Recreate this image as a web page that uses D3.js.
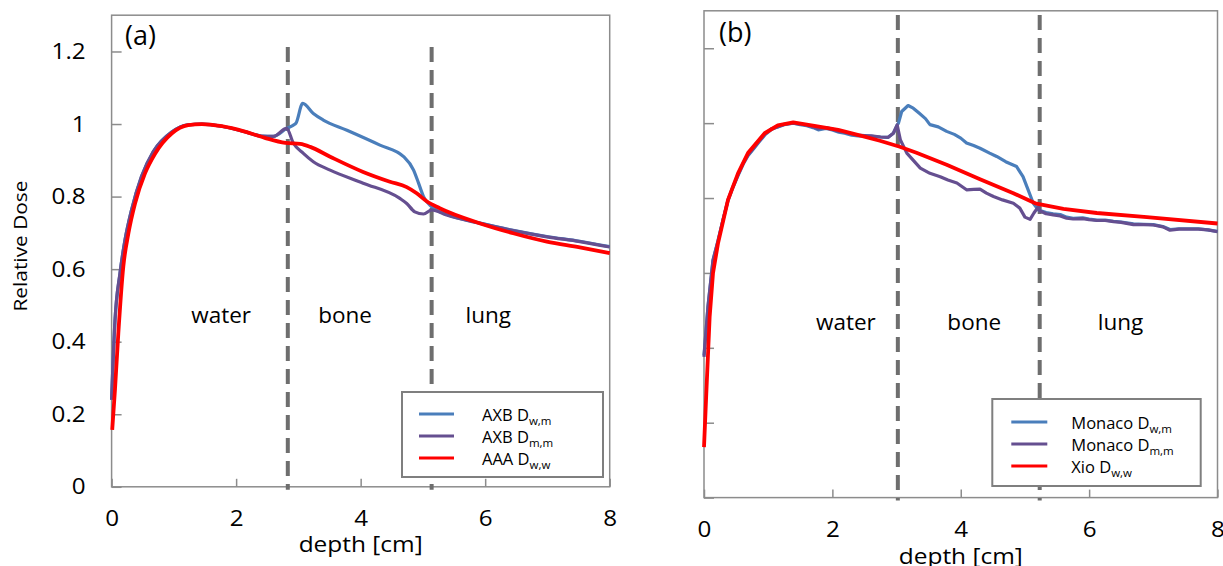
<!DOCTYPE html>
<html>
<head>
<meta charset="utf-8">
<script src="https://cdn.jsdelivr.net/npm/d3@7"></script>
<style>
  body { margin: 0; background: #fff; }
  svg { display: block; font-family: "Open Sans", sans-serif; }
</style>
</head>
<body>
<svg></svg>
<script>
// depth [cm] vs relative dose

const xTicks = [0, 2, 4, 6, 8]
const yTicks = [0, 0.2, 0.4, 0.6, 0.8, 1, 1.2]
const regions = ["water", "bone", "lung"]

// panel (a)
const aBoundaries = [2.83, 5.14]
const aRegionX = [1.76, 3.75, 6.05]
const aLegend = [["AXB D", "w,m"], ["AXB D", "m,m"], ["AAA D", "w,w"]]

const aAxbDwm = [
    [0.0, 0.24], [0.055, 0.46], [0.135, 0.589], [0.215, 0.68], [0.32, 0.763], [0.48, 0.855],
    [0.67, 0.924], [0.965, 0.978], [1.23, 0.998], [1.45, 1.0], [1.77, 0.994], [2.14, 0.979],
    [2.4, 0.967], [2.6, 0.966], [2.81, 0.988], [2.92, 0.997], [2.96, 1.002], [3.07, 1.057],
    [3.24, 1.029], [3.4, 1.011], [3.78, 0.983], [4.31, 0.942], [4.69, 0.91], [4.85, 0.873],
    [4.93, 0.837], [5.01, 0.8], [5.14, 0.772], [5.38, 0.751], [5.92, 0.727], [6.45, 0.707],
    [6.99, 0.69], [7.52, 0.677], [8.0, 0.662]
]
const aAxbDmm = [
    [0.0, 0.24], [0.055, 0.46], [0.135, 0.589], [0.215, 0.68], [0.32, 0.763], [0.48, 0.855],
    [0.67, 0.924], [0.965, 0.978], [1.23, 0.998], [1.45, 1.0], [1.77, 0.994], [2.14, 0.979],
    [2.4, 0.967], [2.6, 0.966], [2.81, 0.988], [2.92, 0.947], [3.08, 0.919], [3.24, 0.896],
    [3.51, 0.873], [4.04, 0.837], [4.63, 0.795], [4.74, 0.781], [4.87, 0.758], [5.01, 0.752],
    [5.14, 0.763], [5.38, 0.749], [5.92, 0.726], [6.45, 0.706], [6.99, 0.689], [7.52, 0.676],
    [8.0, 0.661]
]
const aAaaDww = [
    [0.01, 0.157], [0.055, 0.27], [0.108, 0.423], [0.188, 0.607], [0.27, 0.699], [0.376, 0.781],
    [0.536, 0.864], [0.7, 0.919], [0.965, 0.974], [1.23, 0.997], [1.45, 1.0], [1.77, 0.994],
    [2.14, 0.979], [2.46, 0.962], [2.79, 0.948], [3.03, 0.945], [3.19, 0.937], [3.51, 0.91],
    [4.04, 0.868], [4.47, 0.841], [4.74, 0.826], [4.9, 0.809], [5.06, 0.787], [5.27, 0.768],
    [5.92, 0.726], [6.45, 0.699], [6.99, 0.676], [7.52, 0.66], [8.0, 0.644]
]

// panel (b)
const bBoundaries = [3.02, 5.23]
const bRegionX = [2.21, 4.21, 6.49]
const bLegend = [["Monaco D", "w,m"], ["Monaco D", "m,m"], ["Xio D", "w,w"]]

const bMonacoDwm = [
    [0.0, 0.38], [0.062, 0.51], [0.14, 0.632], [0.218, 0.686], [0.3, 0.744], [0.374, 0.793],
    [0.45, 0.828], [0.53, 0.86], [0.61, 0.89], [0.685, 0.913], [0.78, 0.933], [0.86, 0.95],
    [0.945, 0.968], [1.05, 0.983], [1.15, 0.99], [1.25, 0.996], [1.39, 1.0], [1.5, 0.996],
    [1.6, 0.993], [1.7, 0.988], [1.78, 0.982], [1.9, 0.986], [2.0, 0.982], [2.1, 0.976],
    [2.19, 0.973], [2.3, 0.968], [2.4, 0.966], [2.5, 0.965], [2.61, 0.965], [2.75, 0.963],
    [2.87, 0.962], [2.95, 0.973], [3.01, 0.995], [3.03, 1.0], [3.08, 1.031], [3.18, 1.047],
    [3.26, 1.04], [3.35, 1.027], [3.45, 1.012], [3.52, 0.996], [3.65, 0.99], [3.78, 0.978],
    [3.9, 0.97], [4.0, 0.96], [4.09, 0.947], [4.2, 0.94], [4.3, 0.933], [4.45, 0.92],
    [4.56, 0.911], [4.7, 0.897], [4.87, 0.884], [4.97, 0.857], [5.05, 0.822], [5.13, 0.786],
    [5.21, 0.768], [5.33, 0.761], [5.44, 0.758], [5.55, 0.756], [5.65, 0.749], [5.75, 0.746],
    [5.9, 0.747], [6.0, 0.744], [6.12, 0.741], [6.25, 0.741], [6.38, 0.738], [6.5, 0.736],
    [6.69, 0.731], [6.85, 0.73], [7.0, 0.729], [7.15, 0.724], [7.26, 0.716], [7.4, 0.718],
    [7.52, 0.718], [7.7, 0.718], [7.85, 0.715], [8.0, 0.711]
]
const bMonacoDmm = [
    [0.0, 0.376], [0.062, 0.51], [0.14, 0.635], [0.218, 0.685], [0.3, 0.745], [0.374, 0.795],
    [0.45, 0.83], [0.53, 0.862], [0.61, 0.893], [0.685, 0.915], [0.78, 0.935], [0.86, 0.952],
    [0.945, 0.97], [1.05, 0.985], [1.15, 0.99], [1.25, 0.997], [1.39, 1.0], [1.5, 0.997],
    [1.6, 0.995], [1.7, 0.99], [1.78, 0.985], [1.9, 0.988], [2.0, 0.984], [2.1, 0.978],
    [2.19, 0.976], [2.3, 0.971], [2.4, 0.968], [2.5, 0.967], [2.61, 0.966], [2.75, 0.963],
    [2.87, 0.962], [2.95, 0.973], [3.01, 0.995], [3.06, 0.955], [3.16, 0.92], [3.37, 0.88],
    [3.52, 0.866], [3.68, 0.857], [3.8, 0.848], [3.94, 0.84], [4.09, 0.822], [4.2, 0.823],
    [4.3, 0.824], [4.4, 0.813], [4.51, 0.804], [4.65, 0.795], [4.82, 0.786], [4.92, 0.773],
    [5.0, 0.749], [5.08, 0.743], [5.14, 0.76], [5.21, 0.777], [5.23, 0.766], [5.33, 0.758],
    [5.44, 0.755], [5.55, 0.752], [5.65, 0.746], [5.75, 0.744], [5.9, 0.745], [6.0, 0.742],
    [6.12, 0.74], [6.25, 0.74], [6.38, 0.737], [6.5, 0.735], [6.69, 0.729], [6.85, 0.729],
    [7.0, 0.728], [7.15, 0.723], [7.26, 0.714], [7.4, 0.717], [7.52, 0.717], [7.7, 0.717],
    [7.85, 0.715], [8.0, 0.71]
]
const bXioDww = [
    [0.0, 0.135], [0.036, 0.279], [0.088, 0.483], [0.14, 0.599], [0.218, 0.679], [0.374, 0.795],
    [0.53, 0.866], [0.685, 0.92], [0.945, 0.973], [1.15, 0.994], [1.39, 1.002], [1.72, 0.993],
    [2.09, 0.982], [2.5, 0.964], [2.74, 0.953], [3.05, 0.937], [3.31, 0.921], [3.78, 0.889],
    [4.3, 0.85], [4.82, 0.813], [5.16, 0.786], [5.6, 0.771], [6.12, 0.76], [6.9, 0.749],
    [8.0, 0.732]
]

const colors = ["#4a7ebb", "#654f90", "#ff0000"]
const widths = [3.2, 3.2, 3.8]

const svg = d3.select("svg")
    .attr("width", 1223)
    .attr("height", 566)

const drawPanel = function (p) {
    const scaleX = d3.scaleLinear().domain([0, 8]).range([p.left, p.right])
    const scaleY = d3.scaleLinear().domain([0, 1.3]).range([p.bottom, p.top])
    const g = svg.append("g")

    // box
    g.append("rect")
        .attr("x", p.left)
        .attr("y", p.top)
        .attr("width", p.right - p.left)
        .attr("height", p.bottom - p.top)
        .attr("fill", "none")
        .attr("stroke", "#8c8c8c")
        .attr("stroke-width", 1.5)

    const axisY = d3.axisLeft(scaleY)
        .tickValues(yTicks)
        .tickSizeInner(-10)
        .tickSizeOuter(0)
        .tickPadding(26)
        .tickFormat(d => p.yLabels ? d3.format("~g")(d) : "")
    const axisX = d3.axisBottom(scaleX)
        .tickValues(xTicks)
        .tickSizeInner(-8)
        .tickSizeOuter(0)
        .tickPadding(24)

    const gy = g.append("g").attr("transform", `translate(${p.left}, 0)`).call(axisY)
    const gx = g.append("g").attr("transform", `translate(0, ${p.bottom})`).call(axisX)
    ;[gx, gy].forEach(ax => {
        ax.select(".domain").remove()
        ax.selectAll("line").attr("stroke", "#8c8c8c").attr("stroke-width", 1.5)
        ax.selectAll("text")
            .attr("font-family", "Open Sans")
            .attr("font-size", 22)
            .attr("fill", "#000")
    })
    gy.selectAll("text")
        .attr("x", -26 / 1.1)
        .attr("transform", "scale(1.1, 1)")
    gx.selectAll("text").attr("transform", "scale(1.1, 1)")

    // material boundaries
    g.selectAll("line.boundary")
        .data(p.boundaries)
        .enter()
        .append("line")
        .attr("class", "boundary")
        .attr("x1", d => scaleX(d))
        .attr("x2", d => scaleX(d))
        .attr("y1", scaleY(p.dashTop))
        .attr("y2", p.bottom + 3)
        .attr("stroke", "#6e6e6e")
        .attr("stroke-width", 4)
        .attr("stroke-dasharray", "15 8")

    // region names
    g.selectAll("text.region")
        .data(regions)
        .enter()
        .append("text")
        .attr("class", "region")
        .attr("x", (d, i) => scaleX(p.regionX[i]))
        .attr("y", scaleY(p.regionY))
        .attr("text-anchor", "middle")
        .attr("font-size", 22.5)
        .attr("fill", "#000")
        .text(d => d)

    // curves
    const line = d3.line()
        .x(d => scaleX(d[0]))
        .y(d => scaleY(d[1]))
        .curve(p.curve)
    g.selectAll("path.curve")
        .data(p.series)
        .enter()
        .append("path")
        .attr("class", "curve")
        .attr("d", d => line(d))
        .attr("fill", "none")
        .attr("stroke", (d, i) => colors[i])
        .attr("stroke-width", (d, i) => widths[i])
        .attr("stroke-linejoin", "round")

    // panel letter
    g.append("text")
        .attr("x", p.letterX)
        .attr("y", p.letterY)
        .attr("font-size", 27)
        .attr("fill", "#000")
        .text(p.letter)

    // x title
    g.append("text")
        .attr("x", (p.left + p.right) / 2)
        .attr("y", p.titleY)
        .attr("text-anchor", "middle")
        .attr("font-size", 22)
        .attr("fill", "#000")
        .attr("textLength", 124)
        .attr("lengthAdjust", "spacingAndGlyphs")
        .text("depth [cm]")

    // legend
    const lg = g.append("g")
    lg.append("rect")
        .attr("x", p.legend.x)
        .attr("y", p.legend.y)
        .attr("width", p.legend.w)
        .attr("height", p.legend.h)
        .attr("fill", "#fff")
        .attr("stroke", "#7f7f7f")
        .attr("stroke-width", 2)
    const rows = lg.selectAll("g.row")
        .data(p.legendText)
        .enter()
        .append("g")
        .attr("class", "row")
        .attr("transform", (d, i) => `translate(${p.legend.x}, ${p.legend.rowY[i]})`)
    rows.append("line")
        .attr("x1", p.legend.lineX[0])
        .attr("x2", p.legend.lineX[1])
        .attr("stroke", (d, i) => colors[i])
        .attr("stroke-width", 3)
    const t = rows.append("text")
        .attr("x", p.legend.textX)
        .attr("y", 6.5)
        .attr("font-size", 16.5)
        .attr("fill", "#000")
    t.append("tspan").text(d => d[0])
    t.append("tspan").attr("font-size", 11.5).attr("dy", 4).text(d => d[1])
}

drawPanel({
    left: 111.6, right: 609.7, top: 15.2, bottom: 486.8,
    yLabels: true,
    boundaries: aBoundaries, dashTop: 1.212,
    regionX: aRegionX, regionY: 0.451,
    series: [aAxbDwm, aAxbDmm, aAaaDww],
    curve: d3.curveMonotoneX,
    letter: "(a)", letterX: 125, letterY: 45,
    titleY: 552,
    legendText: aLegend,
    legend: { x: 402, y: 392, w: 201, h: 85, rowY: [414, 436, 458], lineX: [17, 52], textX: 80 }
})

drawPanel({
    left: 704, right: 1217.5, top: 10.8, bottom: 497.6,
    yLabels: false,
    boundaries: bBoundaries, dashTop: 1.289,
    regionX: bRegionX, regionY: 0.448,
    series: [bMonacoDwm, bMonacoDmm, bXioDww],
    curve: d3.curveLinear,
    letter: "(b)", letterX: 719, letterY: 42,
    titleY: 564,
    legendText: bLegend,
    legend: { x: 992.3, y: 399, w: 208.4, h: 87, rowY: [422, 444, 466], lineX: [19, 55], textX: 79 }
})

// y title, panel (a) only
svg.append("text")
    .attr("transform", "translate(27, 246) rotate(-90)")
    .attr("text-anchor", "middle")
    .attr("font-size", 18)
    .attr("fill", "#000")
    .attr("textLength", 131)
    .attr("lengthAdjust", "spacingAndGlyphs")
    .text("Relative Dose")
</script>
</body>
</html>
